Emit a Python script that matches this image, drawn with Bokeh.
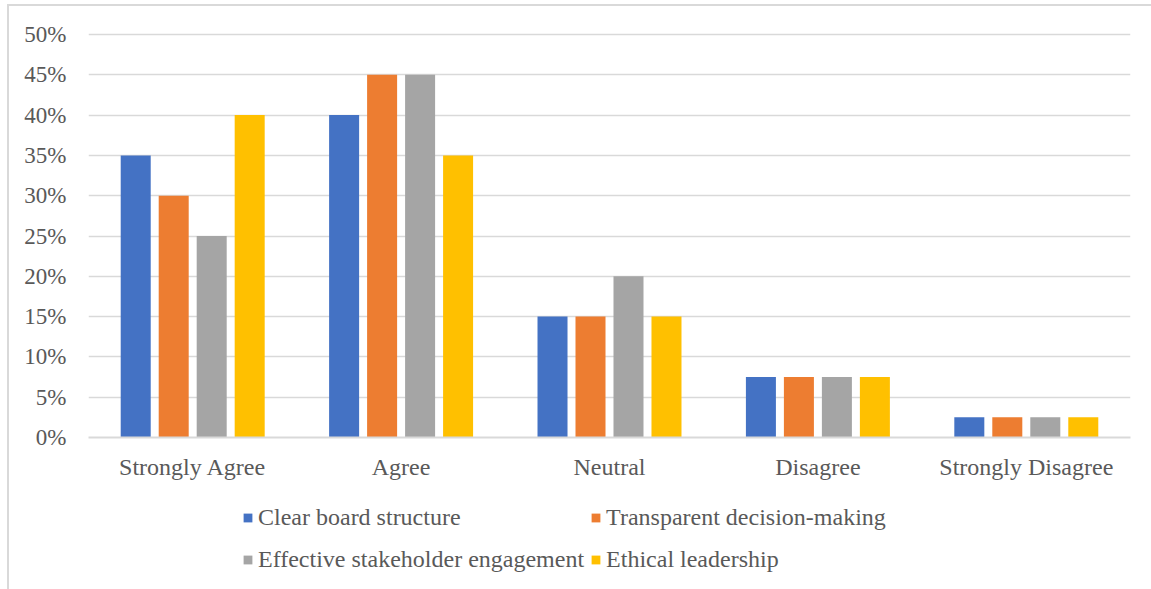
from bokeh.plotting import figure
from bokeh.layouts import column
from bokeh.models import (ColumnDataSource, FactorRange, FixedTicker, NumeralTickFormatter,
                          Legend, LegendItem)
from bokeh.transform import dodge
from bokeh.embed import file_html
from bokeh.resources import INLINE

# Survey responses per governance practice (share of respondents)
categories = ["Strongly Agree", "Agree", "Neutral", "Disagree", "Strongly Disagree"]
clear_board_structure = [0.35, 0.40, 0.15, 0.075, 0.025]
transparent_decision_making = [0.30, 0.45, 0.15, 0.075, 0.025]
effective_stakeholder_engagement = [0.25, 0.45, 0.20, 0.075, 0.025]
ethical_leadership = [0.40, 0.35, 0.15, 0.075, 0.025]
series_names = ["Clear board structure", "Transparent decision-making",
                "Effective stakeholder engagement", "Ethical leadership"]
y_ticks = [0.0, 0.05, 0.10, 0.15, 0.20, 0.25, 0.30, 0.35, 0.40, 0.45, 0.50]

colors = ["#4472C4", "#ED7D31", "#A5A5A5", "#FFC000"]
FONT = "Liberation Serif"
TEXT = "#595959"
GRID = "#D9D9D9"
W = 1142

source = ColumnDataSource(dict(
    cat=categories,
    s0=clear_board_structure,
    s1=transparent_decision_making,
    s2=effective_stakeholder_engagement,
    s3=ethical_leadership,
))

p = figure(x_range=FactorRange(*categories, range_padding=0), y_range=(0, 0.5025),
           width=W, height=484, output_backend="svg", toolbar_location=None,
           min_border_left=79, min_border_right=21, min_border_top=26, min_border_bottom=53)
p.background_fill_color = "white"
p.border_fill_color = "white"
p.outline_line_color = None

bar_w = 0.144
step = 0.1823
offsets = [-1.5 * step, -0.5 * step, 0.5 * step, 1.5 * step]
for i, (off, c) in enumerate(zip(offsets, colors)):
    p.vbar(x=dodge("cat", off, range=p.x_range), top=f"s{i}", width=bar_w,
           source=source, fill_color=c, line_color=None)

# axes
p.yaxis.ticker = FixedTicker(ticks=y_ticks)
p.yaxis.formatter = NumeralTickFormatter(format="0%")
p.yaxis.axis_line_color = None
p.yaxis.major_tick_line_color = None
p.yaxis.minor_tick_line_color = None
p.yaxis.major_label_standoff = 16
p.yaxis.major_label_text_font = FONT
p.yaxis.major_label_text_font_size = "23px"
p.yaxis.major_label_text_color = TEXT

p.xaxis.axis_line_color = GRID
p.xaxis.axis_line_width = 2
p.xaxis.major_tick_line_color = None
p.xaxis.minor_tick_line_color = None
p.xaxis.major_label_standoff = 10
p.xaxis.major_label_text_font = FONT
p.xaxis.major_label_text_font_size = "24px"
p.xaxis.major_label_text_color = TEXT

p.xgrid.grid_line_color = None
p.ygrid.grid_line_color = GRID
p.ygrid.grid_line_width = 1.5

# legend strip under the chart; its swatch renderers stay hidden
lf = figure(width=W, height=99, x_range=FactorRange(*categories), y_range=(0, 1),
            output_backend="svg", toolbar_location=None,
            min_border_left=79, min_border_right=21, min_border_top=0, min_border_bottom=0)
lf.axis.visible = False
lf.grid.visible = False
lf.outline_line_color = None
lf.background_fill_color = "white"
lf.border_fill_color = "white"
swatches = [lf.vbar(x="cat", top=f"s{i}", width=0.1, source=source,
                    fill_color=c, line_color=None, visible=False)
            for i, c in enumerate(colors)]

# two rows, filled row by row: column one holds series 0 and 2, column two 1 and 3
order = [0, 2, 1, 3]
legend = Legend(
    items=[LegendItem(label=series_names[k], renderers=[swatches[k]]) for k in order],
    ncols=2, location=(154, 12),
    label_text_font=FONT, label_text_font_size="24px", label_text_color=TEXT,
    glyph_width=11, glyph_height=11, label_standoff=5, spacing=6, label_height=36,
    padding=0, margin=0, border_line_color=None, background_fill_alpha=0,
    inactive_fill_alpha=0,
)
lf.add_layout(legend, "center")

chart = column(p, lf, spacing=0)
chart.margin = (4, 0, 0, 7)
chart.styles = {"border-left": "2px solid #D9D9D9", "border-top": "2px solid #D9D9D9"}

open("out.html", "w").write(file_html(chart, INLINE))
